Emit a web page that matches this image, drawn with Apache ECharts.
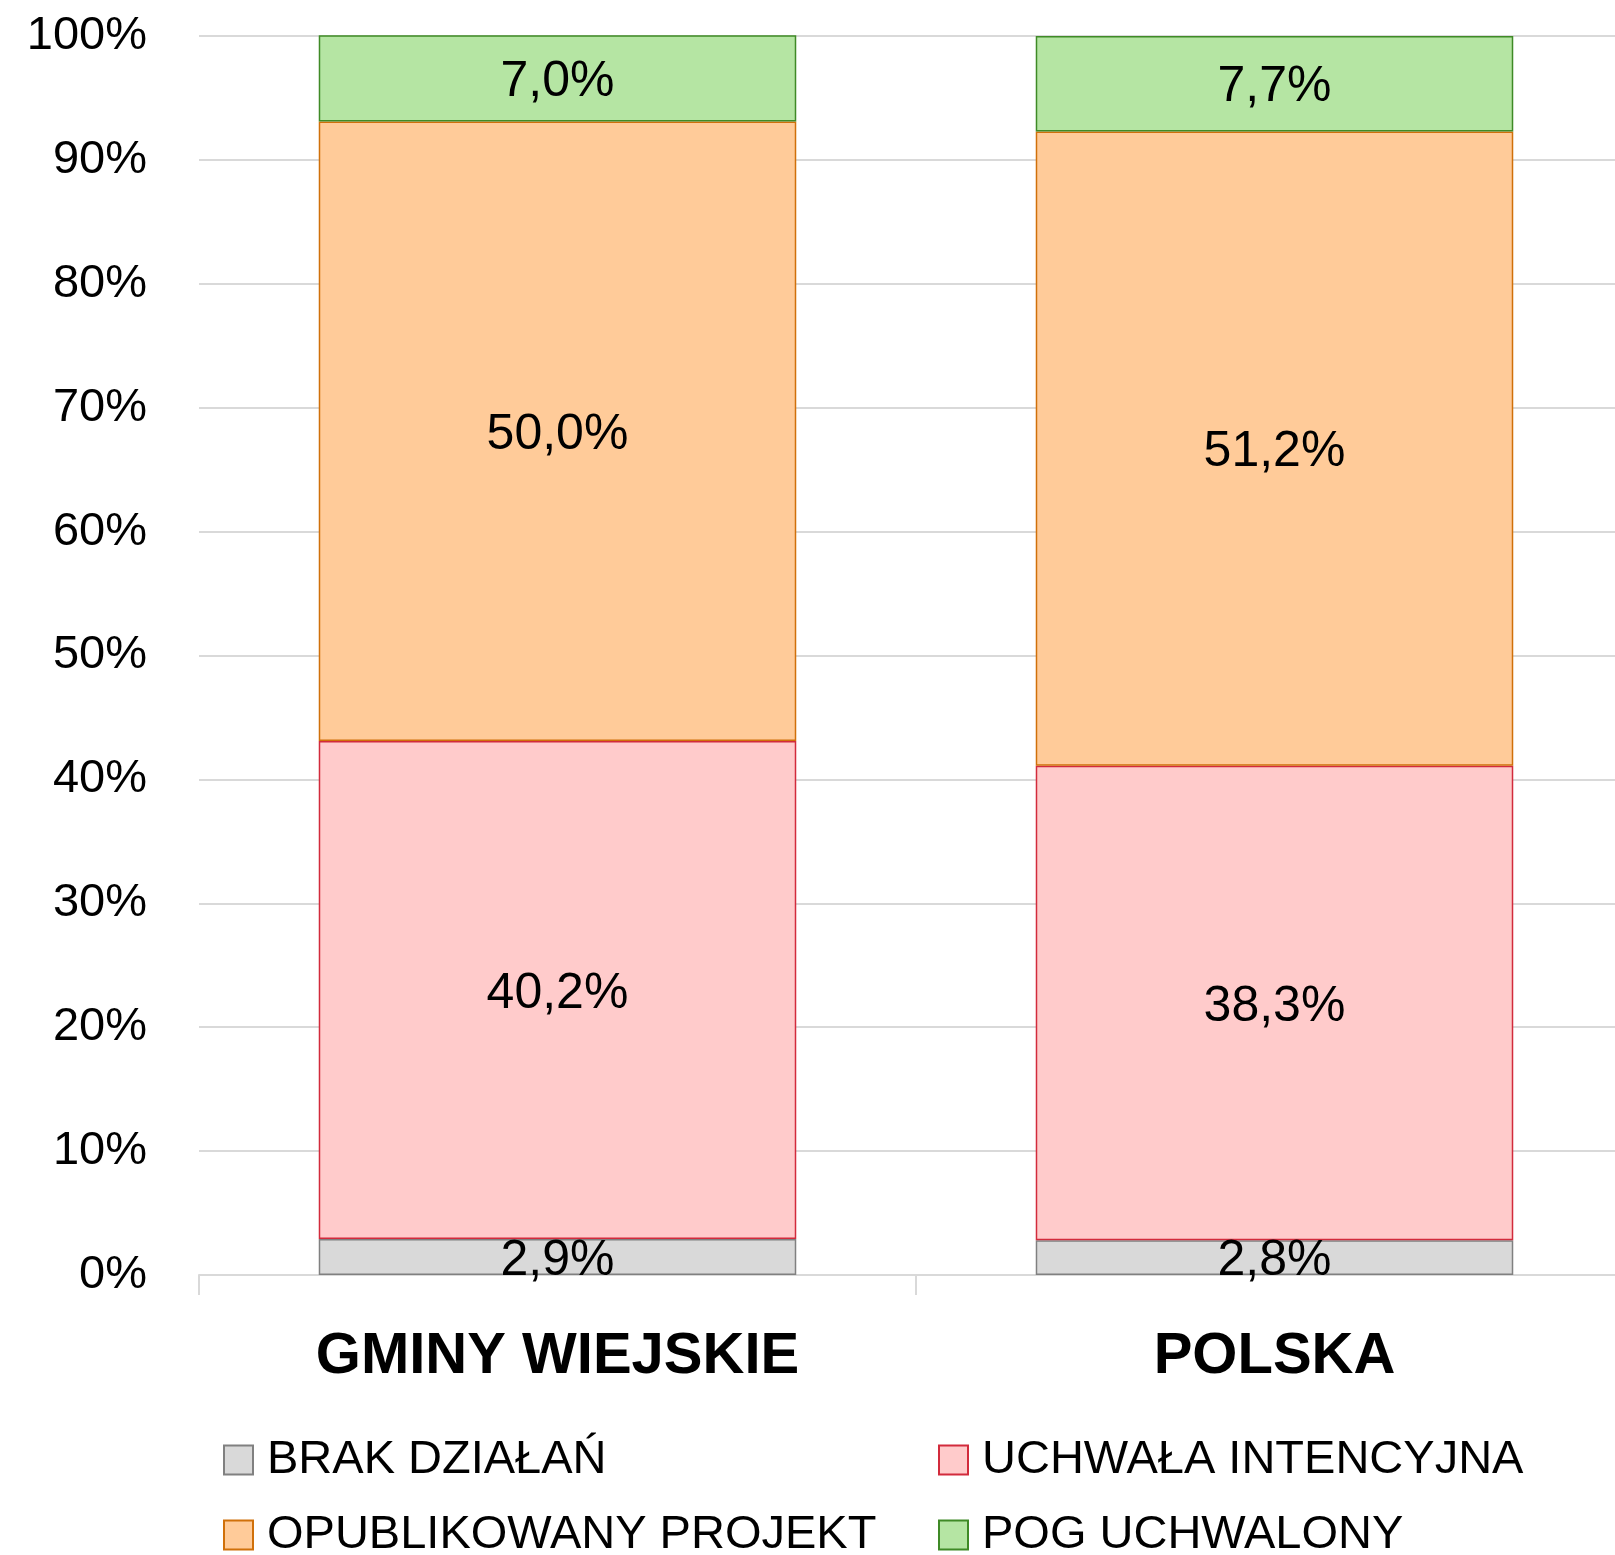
<!DOCTYPE html>
<html>
<head>
<meta charset="utf-8">
<script src="https://cdn.jsdelivr.net/npm/echarts@6/dist/echarts.min.js"></script>
<style>
  html, body { margin: 0; padding: 0; background: #fff; }
  #main { width: 1615px; height: 1555px; }
</style>
</head>
<body>
<div id="main"></div>
<script>
// kategorie i wartości (%)
var categories = ['GMINY WIEJSKIE', 'POLSKA']
var brakDzialan = [2.9, 2.8]
var uchwalaIntencyjna = [40.2, 38.3]
var opublikowanyProjekt = [50.0, 51.2]
var pogUchwalony = [7.0, 7.7]
var yTicks = [0, 10, 20, 30, 40, 50, 60, 70, 80, 90, 100]

var font = '"Liberation Sans", Arial, sans-serif'

function fmt(v) {
  return v.toFixed(1).replace('.', ',') + '%'
}

function makeSeries(name, data, fill, border) {
  return {
    name: name,
    type: 'bar',
    stack: 'total',
    barWidth: '66.6%',
    data: data,
    itemStyle: {
      color: fill,
      borderColor: border,
      borderWidth: 1.5
    },
    label: {
      show: true,
      position: 'inside',
      offset: [0, 4],
      color: '#000',
      fontFamily: font,
      fontSize: 50,
      formatter: function(p) { return fmt(p.value) }
    },
    emphasis: { disabled: true }
  }
}

// jedna pozycja legendy = jeden komponent, żeby ułożyć ją 2x2
function legendItem(name, left, top) {
  return {
    left: left,
    top: top,
    icon: 'rect',
    itemWidth: 29,
    itemHeight: 29,
    itemStyle: { borderWidth: 2 },
    textStyle: {
      color: '#000',
      fontFamily: font,
      fontSize: 47,
      lineHeight: 48,
      padding: [0, 0, 0, 9]
    },
    data: [name]
  }
}

var chart = echarts.init(document.getElementById('main'))

var option = {
  animation: false,
  grid: {
    left: 199,
    top: 36,
    width: 1434,
    height: 1239,
    outerBoundsMode: 'none'
  },
  legend: [
    legendItem('BRAK DZIAŁAŃ', 218, 1431),
    legendItem('UCHWAŁA INTENCYJNA', 933, 1431),
    legendItem('OPUBLIKOWANY PROJEKT', 218, 1506),
    legendItem('POG UCHWALONY', 933, 1506)
  ],
  xAxis: {
    type: 'category',
    data: categories,
    axisLine: { lineStyle: { color: '#d9d9d9', width: 2 } },
    axisTick: { show: true, length: 20, lineStyle: { color: '#d9d9d9', width: 2 } },
    axisLabel: {
      color: '#000',
      fontFamily: font,
      fontWeight: 'bold',
      fontSize: 58,
      margin: 53
    }
  },
  yAxis: {
    type: 'value',
    min: 0,
    max: 100,
    interval: 10,
    axisLine: { show: false },
    axisTick: { show: false },
    splitLine: { lineStyle: { color: '#d9d9d9', width: 2 } },
    axisLabel: {
      color: '#000',
      fontFamily: font,
      fontSize: 47,
      margin: 52,
      formatter: function(v) { return yTicks.indexOf(v) >= 0 ? v + '%' : '' }
    }
  },
  series: [
    makeSeries('BRAK DZIAŁAŃ', brakDzialan, '#d9d9d9', '#808080'),
    makeSeries('UCHWAŁA INTENCYJNA', uchwalaIntencyjna, '#ffcbcb', '#d22b3c'),
    makeSeries('OPUBLIKOWANY PROJEKT', opublikowanyProjekt, '#ffcb99', '#d0700a'),
    makeSeries('POG UCHWALONY', pogUchwalony, '#b5e5a3', '#3f8a26')
  ]
}

chart.setOption(option)
</script>
</body>
</html>
